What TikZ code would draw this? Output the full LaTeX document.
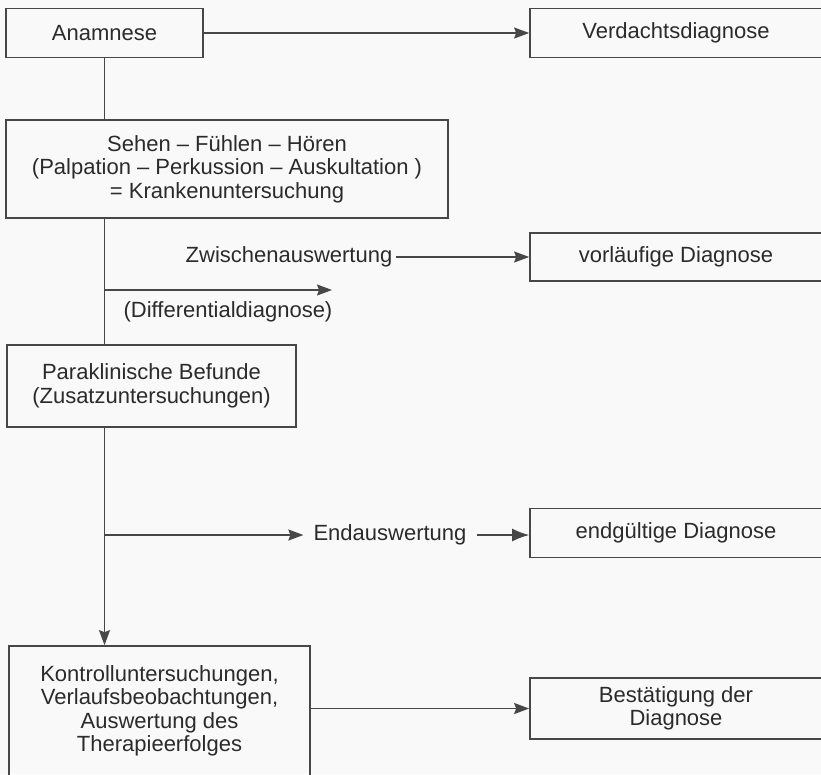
\documentclass[tikz,border=0pt]{standalone}
\usepackage{fontspec}
\setmainfont{Liberation Sans}
\usetikzlibrary{arrows.meta}
\definecolor{ink}{gray}{0.17}
\definecolor{rule}{gray}{0.28}
\definecolor{paper}{gray}{0.975}

\begin{document}
\begin{tikzpicture}[x=1pt,y=-1pt,
  font=\fontsize{22}{23.5}\selectfont, text=ink,
  box/.style={draw=rule,line width=1.7pt,align=center,inner sep=0pt},
  link/.style={draw=rule,line width=1.5pt},
  arr/.style={link,-{Stealth[length=15pt,width=11pt,inset=2pt]}},
  bigarr/.style={link,-{Latex[length=17pt,width=13pt]}}]
\fill[paper] (0,0) rectangle (821,774);
\useasboundingbox (0,0) rectangle (821,774);
\node[box,minimum width=197,minimum height=49] (anam) at (104.5,33) {Anamnese};
\node[box,minimum width=292,minimum height=49] (verd) at (676,33) {Verdachtsdiagnose};
\node[box,minimum width=442,minimum height=98] (sehen) at (227,169) {Sehen – Fühlen – Hören\\(Palpation – Perkussion – Auskultation )\\= Krankenuntersuchung};
\node (zwa) at (289,257) {Zwischenauswertung};
\node[box,minimum width=292,minimum height=48] (vorl) at (676,257) {vorläufige Diagnose};
\coordinate (diffend) at (332,290);
\node (diff) at (228,312) {(Differentialdiagnose)};
\node[box,minimum width=289,minimum height=82] (para) at (151.5,386) {Paraklinische Befunde\\(Zusatzuntersuchungen)};
\node[inner sep=10pt] (enda) at (390,535) {Endauswertung};
\node[box,minimum width=292,minimum height=49] (endg) at (676,533) {endgültige Diagnose};
\node[box,minimum width=301,minimum height=130] (kontr) at (159.5,711) {Kontrolluntersuchungen,\\Verlaufsbeobachtungen,\\Auswertung des\\Therapieerfolges};
\node[box,minimum width=292,minimum height=61] (best) at (676,708.5) {Bestätigung der\\Diagnose};
\draw[arr] (anam) -- (verd);
\draw[link] (anam.south) -- (sehen.north -| anam.south);
\draw[link] (sehen.south -| anam.south) -- (para.north -| anam.south);
\draw[arr] (diffend -| anam.south) -- (diffend);
\draw[arr] (zwa) -- (vorl);
\draw[arr] (para.south -| anam.south) -- (kontr.north -| anam.south);
\draw[arr] (enda.west -| anam.south) -- (enda.west);
\draw[bigarr] (enda.east) -- (enda.east -| endg.west);
\draw[arr] (best.west -| kontr.east) -- (best.west);
\end{tikzpicture}
\end{document}
